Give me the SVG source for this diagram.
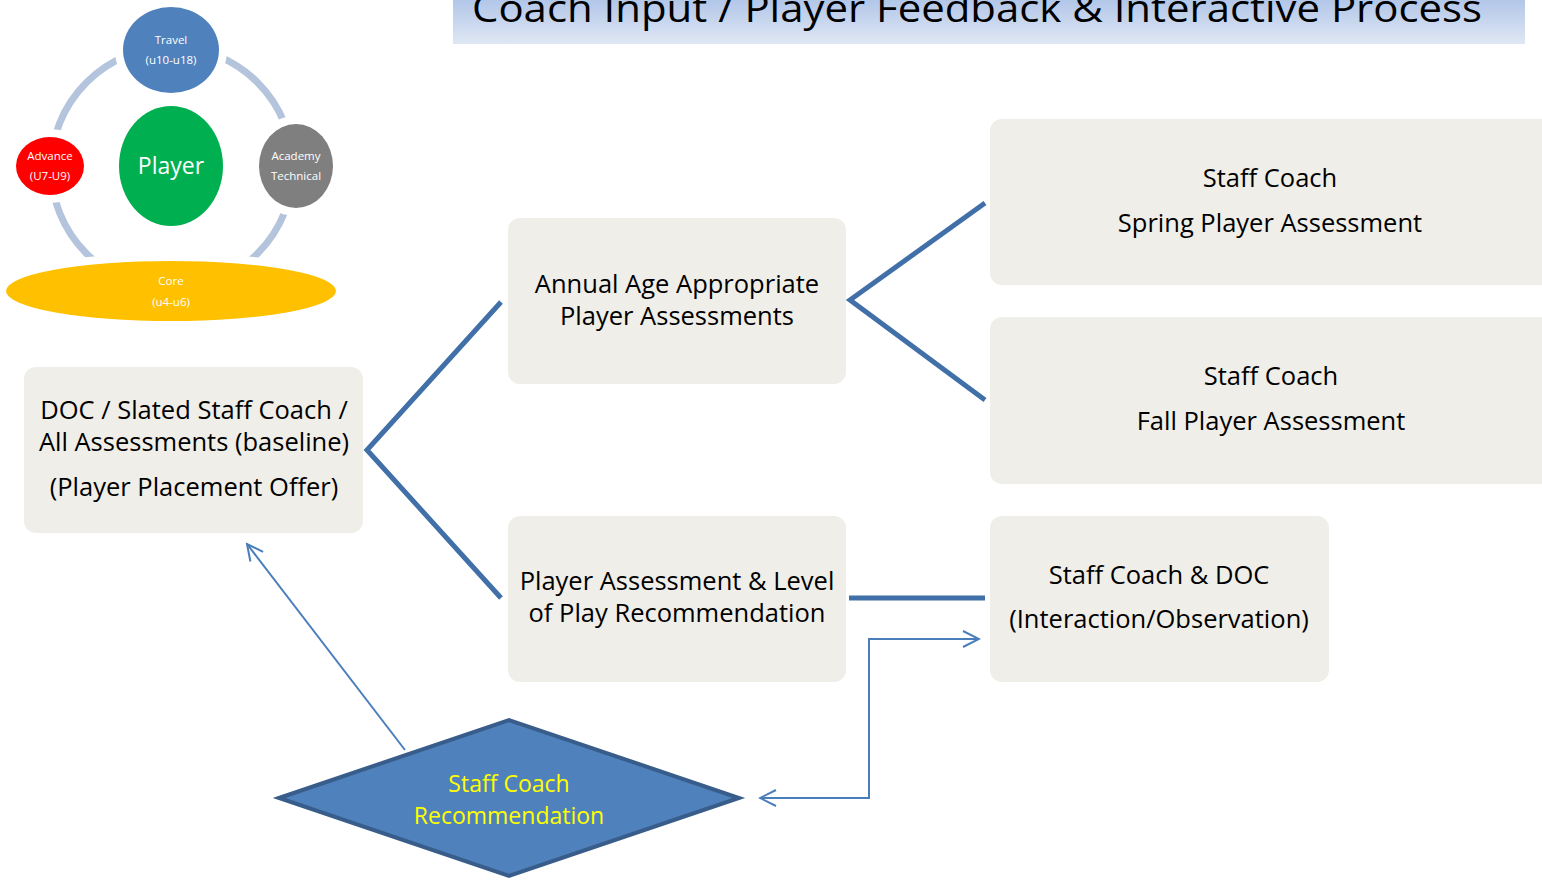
<svg xmlns="http://www.w3.org/2000/svg" width="1542" height="880" viewBox="0 0 1542 880">
<defs>
<linearGradient id="tg" x1="0" y1="0" x2="0" y2="1">
<stop offset="0" stop-color="#a8bfe6"/>
<stop offset="1" stop-color="#dfe7f4"/>
</linearGradient>
<marker id="ah" viewBox="0 0 20 20" refX="18" refY="10" markerWidth="20" markerHeight="20" markerUnits="userSpaceOnUse" orient="auto-start-reverse">
<path d="M2,2 L18,10 L2,18" fill="none" stroke="#4a7ebb" stroke-width="2"/>
</marker>
<style>
.box{fill:#f0eee8;}
.bt{font-family:"Open Sans","DejaVu Sans",sans-serif;font-size:25.5px;fill:#000;text-anchor:middle;}
.st{font-family:"Open Sans","DejaVu Sans",sans-serif;font-size:11.5px;fill:#fff;text-anchor:middle;}
.thick{fill:none;stroke:#4170a8;stroke-width:5;}
.thin{fill:none;stroke:#4a7ebb;stroke-width:2;}
.ring{fill:none;stroke:#b4c4dd;stroke-width:7;}
.gap{stroke:#fff;stroke-width:16;paint-order:stroke;}
</style>
</defs>
<rect width="1542" height="880" fill="#fff"/>
<g id="title">
<rect x="453" y="-10" width="1072" height="54" fill="url(#tg)"/>
<text x="977" y="22" font-family="'Open Sans','DejaVu Sans',sans-serif" font-size="38" fill="#000" text-anchor="middle" textLength="1010" lengthAdjust="spacingAndGlyphs">Coach Input / Player Feedback &amp; Interactive Process</text>
</g>
<g id="cycle">
<circle class="ring" cx="172" cy="168" r="121"/>
<g id="n-travel"><ellipse class="gap" cx="171" cy="50" rx="48" ry="43" fill="#4f81bd"/><text class="st" x="171" y="44">Travel</text><text class="st" x="171" y="64">(u10-u18)</text></g>
<g id="n-advance"><ellipse class="gap" cx="50" cy="166" rx="34" ry="29" fill="#ff0000"/><text class="st" x="50" y="160">Advance</text><text class="st" x="50" y="180">(U7-U9)</text></g>
<g id="n-academy"><ellipse class="gap" cx="296" cy="166" rx="37" ry="42" fill="#7f7f7f"/><text class="st" x="296" y="160">Academy</text><text class="st" x="296" y="180">Technical</text></g>
<g id="n-player"><ellipse cx="171" cy="166" rx="52" ry="60" fill="#00b050"/><text x="171" y="174" font-family="'Open Sans','DejaVu Sans',sans-serif" font-size="23" fill="#fff" text-anchor="middle">Player</text></g>
<g id="n-core"><ellipse class="gap" cx="171" cy="291" rx="165" ry="30" fill="#ffc000"/><text class="st" x="171" y="285">Core</text><text class="st" x="171" y="306">(u4-u6)</text></g>
</g>
<g id="connectors">
<polyline class="thick" points="501,302 367,450 501,598"/>
<polyline class="thick" points="985,203 850,300 985,400"/>
<line class="thick" x1="849" y1="598" x2="985" y2="598"/>
<line class="thin" x1="405" y1="750" x2="247" y2="544" marker-end="url(#ah)"/>
<polyline class="thin" points="760,798 869,798 869,639 979,639" marker-start="url(#ah)" marker-end="url(#ah)"/>
</g>
<g id="n-annual"><rect class="box" x="508" y="218" width="338" height="166" rx="12"/><text class="bt" x="677" y="293">Annual Age Appropriate</text><text class="bt" x="677" y="325">Player Assessments</text></g>
<g id="n-doc"><rect class="box" x="24" y="367" width="339" height="166" rx="12"/><text class="bt" x="194" y="419">DOC / Slated Staff Coach /</text><text class="bt" x="194" y="451">All Assessments (baseline)</text><text class="bt" x="194" y="496">(Player Placement Offer)</text></g>
<g id="n-level"><rect class="box" x="508" y="516" width="338" height="166" rx="12"/><text class="bt" x="677" y="590">Player Assessment &amp; Level</text><text class="bt" x="677" y="622">of Play Recommendation</text></g>
<g id="n-spring"><rect class="box" x="990" y="119" width="570" height="166" rx="12"/><text class="bt" x="1270" y="187">Staff Coach</text><text class="bt" x="1270" y="232">Spring Player Assessment</text></g>
<g id="n-fall"><rect class="box" x="990" y="317" width="570" height="167" rx="12"/><text class="bt" x="1271" y="385">Staff Coach</text><text class="bt" x="1271" y="430">Fall Player Assessment</text></g>
<g id="n-scdoc"><rect class="box" x="990" y="516" width="339" height="166" rx="12"/><text class="bt" x="1159" y="584">Staff Coach &amp; DOC</text><text class="bt" x="1159" y="628">(Interaction/Observation)</text></g>
<g id="n-rec"><polygon points="279,798 509,720 739,798 509,876" fill="#4f81bd" stroke="#385d8a" stroke-width="4"/><text class="bt" x="509" y="792" style="fill:#ffff00;font-size:23px">Staff Coach</text><text class="bt" x="509" y="824" style="fill:#ffff00;font-size:23px">Recommendation</text></g>
</svg>
